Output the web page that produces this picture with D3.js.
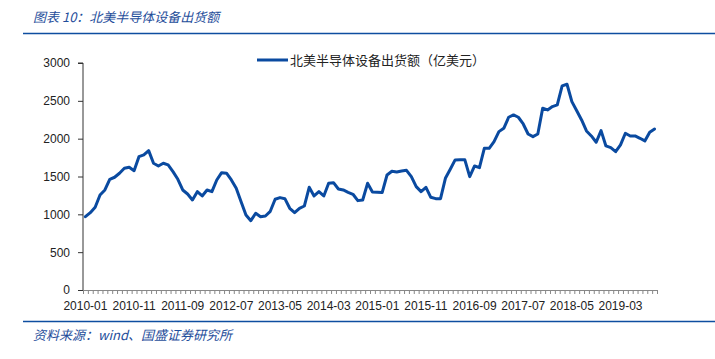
<!DOCTYPE html>
<html><head><meta charset="utf-8">
<script src="https://cdn.jsdelivr.net/npm/d3@7"></script>
<style>body{margin:0;background:#fff}</style>
</head><body>
<svg id="c" width="715" height="359"></svg>
<script>
const titleText = "图表 10：北美半导体设备出货额";
const sourceText = "资料来源：wind、国盛证券研究所";
const seriesName = "北美半导体设备出货额（亿美元）";
const yTicks = [0, 500, 1000, 1500, 2000, 2500, 3000];
const tickLabels = ["2010-01","2010-11","2011-09","2012-07","2013-05","2014-03","2015-01","2015-11","2016-09","2017-07","2018-05","2019-03"];
const values = [
  969,1022,1093,1256,1322,1463,1490,1543,1609,1622,
  1577,1762,1785,1842,1675,1639,1675,1653,1564,1463,
  1322,1269,1190,1300,1243,1322,1300,1454,1551,1543,
  1454,1344,1167,992,916,1014,969,978,1040,1200,
  1221,1207,1080,1022,1080,1110,1357,1243,1300,1243,
  1410,1418,1335,1322,1291,1265,1181,1190,1410,1295,
  1291,1287,1520,1569,1560,1573,1582,1498,1366,1300,
  1357,1225,1207,1207,1476,1595,1719,1720,1720,1498,
  1639,1617,1873,1873,1961,2093,2137,2283,2313,2283,
  2194,2062,2027,2062,2402,2380,2424,2446,2697,2719,
  2490,2370,2247,2102,2036,1953,2106,1904,1881,1828,
  1917,2071,2036,2036,2005,1970,2085,2128
];
const months = values.map((v,i)=>{const yr=2010+Math.floor(i/12), m=i%12+1; return yr+"-"+(m<10?"0":"")+m;});

const svg = d3.select("#c");
const blue = "#0a4aa0";
const pL = 83, pR = 657, pT = 63, pB = 290;

svg.append("text").attr("x",33).attr("y",22).attr("fill","#1f4e9b")
  .attr("font-family","'Noto Sans CJK SC'").attr("font-style","italic").attr("font-size",13).text(titleText);
svg.append("line").attr("x1",23).attr("x2",715).attr("y1",33.5).attr("y2",33.5).attr("stroke","#0e4ea0").attr("stroke-width",1.5);
svg.append("line").attr("x1",23).attr("x2",715).attr("y1",321.5).attr("y2",321.5).attr("stroke","#0e4ea0").attr("stroke-width",1.5);
svg.append("text").attr("x",33).attr("y",340).attr("fill","#1f4e9b")
  .attr("font-family","'Noto Sans CJK SC'").attr("font-style","italic").attr("font-size",13).text(sourceText);

const x = d3.scaleBand().domain(months).range([pL,pR]).padding(0);
const y = d3.scaleLinear().domain([0,3000]).range([pB,pT]);

const ya = svg.append("g").attr("transform",`translate(${pL},0)`)
  .call(d3.axisLeft(y).tickValues(yTicks).tickSize(5).tickPadding(8).tickFormat(d3.format("d")));
ya.select(".domain").attr("stroke","#333").attr("d",`M-5,${pT}H0V${pB}`);
ya.selectAll(".tick line").attr("stroke","#333");
ya.selectAll("text").attr("font-family","'Liberation Sans'").attr("font-size",12).attr("fill","#222");

const xa = svg.append("g").attr("transform",`translate(0,${pB})`);
xa.append("line").attr("x1",pL).attr("x2",pR).attr("y1",0.5).attr("y2",0.5).attr("stroke","#888");
xa.selectAll("line.t").data(months.concat(["end"])).enter().append("line")
  .attr("x1",(d,i)=>pL + i*x.bandwidth()+0.5).attr("x2",(d,i)=>pL + i*x.bandwidth()+0.5)
  .attr("y1",0).attr("y2",4).attr("stroke","#888");
const labelMonths = months.filter((d,i)=>i%10===0);
xa.selectAll("text").data(labelMonths).enter().append("text")
  .attr("x",(d)=>x(d)+x.bandwidth()/2).attr("y",20).attr("text-anchor","middle")
  .attr("font-family","'Liberation Sans'").attr("font-size",12).attr("fill","#222")
  .text((d,i)=>tickLabels[i]);

const line = d3.line().x((d,i)=>x(months[i])+x.bandwidth()/2).y(d=>y(d)).curve(d3.curveLinear);
svg.append("path").datum(values).attr("d",line).attr("fill","none").attr("stroke",blue)
  .attr("stroke-width",3).attr("stroke-linejoin","round").attr("stroke-linecap","round");

svg.append("line").attr("x1",257).attr("x2",288).attr("y1",60).attr("y2",60).attr("stroke",blue).attr("stroke-width",3);
svg.append("text").attr("x",290).attr("y",64.5).attr("font-family","'Noto Sans CJK SC'").attr("font-size",13).attr("fill","#222").text(seriesName);
</script>
</body></html>
